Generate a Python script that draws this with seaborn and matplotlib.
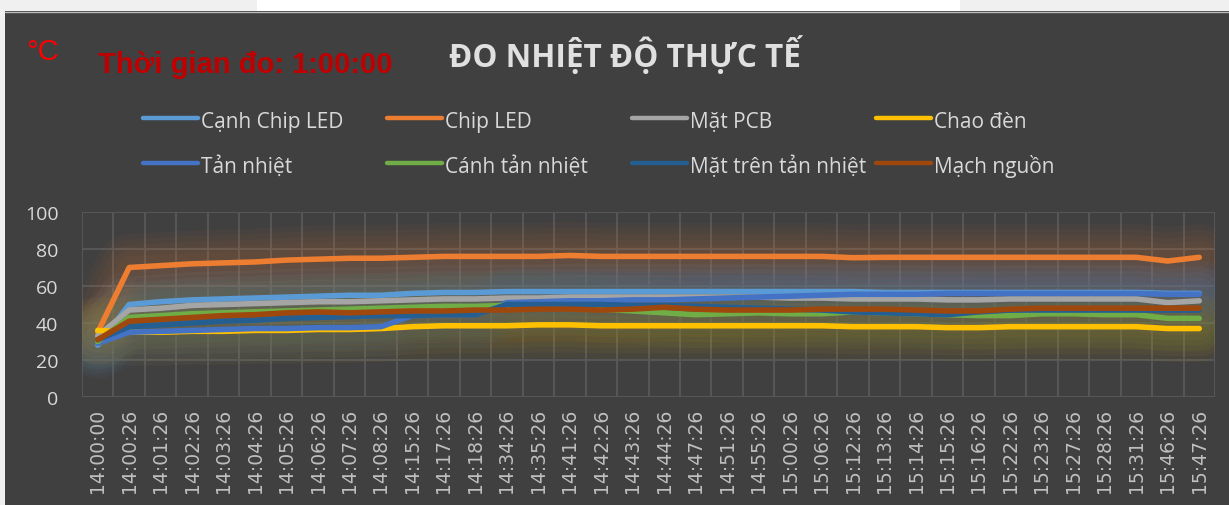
import numpy as np
import pandas as pd
import matplotlib
matplotlib.use('Agg')
import matplotlib.pyplot as plt
import seaborn as sns
from matplotlib.lines import Line2D
from matplotlib.patches import Rectangle
from matplotlib.ticker import FixedLocator

# Data

times = ['14:00:00', '14:00:26', '14:01:26', '14:02:26', '14:03:26', '14:04:26',
         '14:05:26', '14:06:26', '14:07:26', '14:08:26', '14:15:26', '14:17:26',
         '14:18:26', '14:34:26', '14:35:26', '14:41:26', '14:42:26', '14:43:26',
         '14:44:26', '14:47:26', '14:51:26', '14:55:26', '15:00:26', '15:06:26',
         '15:12:26', '15:13:26', '15:14:26', '15:15:26', '15:16:26', '15:22:26',
         '15:23:26', '15:27:26', '15:28:26', '15:31:26', '15:46:26', '15:47:26']

canh_chip_led = [28, 50, 51.5, 52.5, 53, 53.5, 54, 54.5, 55, 55, 56, 56.5, 56.5, 57, 57, 57, 57, 57,
                 57, 57, 57, 57, 57, 57, 57, 56.5, 56.5, 56.5, 56.5, 56.5, 56.5, 56.5, 56.5, 56.5, 56, 56]
chip_led = [35, 70, 71, 72, 72.5, 73, 74, 74.5, 75, 75, 75.5, 76, 76, 76, 76, 76.5, 76, 76,
            76, 76, 76, 76, 76, 76, 75.3, 75.5, 75.5, 75.5, 75.5, 75.5, 75.5, 75.5, 75.5, 75.5, 73.5, 75.5]
mat_pcb = [33, 47, 48, 49.5, 50, 50.5, 51, 51.5, 51.5, 52, 52.5, 53, 53, 53.5, 53.5, 54, 54, 54,
           54, 54, 54, 54, 53.5, 53.5, 53, 53, 53, 52.5, 52.5, 53, 53, 53, 53, 53, 51, 52]
chao_den = [36, 35, 35, 35.5, 35.5, 36, 36, 36.5, 36.5, 37, 38, 38.5, 38.5, 38.5, 39, 39, 38.5, 38.5,
            38.5, 38.5, 38.5, 38.5, 38.5, 38.5, 38, 38, 38, 37.5, 37.5, 38, 38, 38, 38, 38, 37, 37]
tan_nhiet = [29, 35, 35.5, 36, 36.5, 37, 37, 37.5, 37.5, 38, 44, 44.5, 44.5, 51, 51.5, 52, 52, 52.5,
             52.5, 53, 53.5, 54, 54.5, 55, 55.5, 55.5, 55.5, 56, 56, 56, 56, 56, 56, 56, 55.5, 55.5]
canh_tan_nhiet = [30, 43, 44, 45, 45.5, 46, 46.5, 47, 47.5, 48, 48.5, 49, 49, 49.5, 49.5, 49, 47.5, 46.5,
                  45.5, 44.5, 45, 45.5, 45, 45, 46, 45.5, 45, 44.5, 44, 44, 45, 45, 44.5, 44.5, 42.5, 42.5]
mat_tren_tan_nhiet = [31, 38, 39, 40, 41, 41.5, 42.5, 43, 43.5, 44, 44, 44.5, 44.5, 50, 50, 50, 50, 49.5,
                      49.5, 49, 48.5, 48, 47.5, 47, 46, 45.5, 45, 44.5, 46, 47, 47, 47, 47, 47, 47, 47]
mach_nguon = [31, 41, 42, 43, 44, 44.5, 45.5, 46, 45.5, 46, 46.5, 46.5, 47, 47, 47.5, 47.5, 47, 47.5,
              48.5, 47.5, 47, 47, 47, 47.5, 47.5, 47.5, 47, 46.5, 46.5, 47.5, 48, 48, 48, 48, 48, 48]

series_names = ['Cạnh Chip LED', 'Chip LED', 'Mặt PCB', 'Chao đèn',
                'Tản nhiệt', 'Cánh tản nhiệt', 'Mặt trên tản nhiệt', 'Mạch nguồn']
series_values = [canh_chip_led, chip_led, mat_pcb, chao_den,
                 tan_nhiet, canh_tan_nhiet, mat_tren_tan_nhiet, mach_nguon]
colors = ['#5B9BD5', '#ED7D31', '#A5A5A5', '#FFC000',
          '#4472C4', '#70AD47', '#255E91', '#9E480E']

rows = []
for name, vals in zip(series_names, series_values):
    for i, v in enumerate(vals):
        rows.append({'idx': i, 'time': times[i], 'series': name, 'temp': v})
df = pd.DataFrame(rows)

# Figure setup

W, H = 1229, 506
BG = '#404040'

sns.set_theme(style='dark')
plt.rcParams['font.family'] = ['Open Sans', 'DejaVu Sans']

fig = plt.figure(figsize=(W / 100, H / 100), dpi=100)
fig.patch.set_facecolor(BG)

def fx(px):
    return px / W

def fy(py):
    return 1 - py / H

# light frame around the chart (screenshot edges)
fig.add_artist(Rectangle((0, fy(12)), 1, 12 / H, transform=fig.transFigure,
                         facecolor='#f0f0f0', edgecolor='none'))
fig.add_artist(Rectangle((fx(257), fy(12)), 703 / W, 12 / H, transform=fig.transFigure,
                         facecolor='#ffffff', edgecolor='none'))
fig.add_artist(Rectangle((0, 0), 5 / W, 1, transform=fig.transFigure,
                         facecolor='#f0f0f0', edgecolor='none'))
fig.add_artist(Line2D([fx(5), 1], [fy(12.5), fy(12.5)], transform=fig.transFigure,
                      color='#bcbcbc', lw=1))

ax = fig.add_axes([fx(82), fy(398), (1215 - 82) / W, (398 - 213) / H])
ax.set_facecolor('none')

sns.lineplot(data=df, x='idx', y='temp', hue='series', hue_order=series_names,
             palette=colors, linewidth=4, legend=False, ax=ax, zorder=3)

# soft glow under the lines
for line in list(ax.lines):
    xd, yd = line.get_data()
    c = line.get_color()
    line.set_solid_capstyle('round')
    line.set_solid_joinstyle('round')
    for lw in [48, 40, 32, 24, 16]:
        ax.plot(xd, yd, color=c, lw=lw, alpha=0.045, zorder=1.5,
                solid_capstyle='round', solid_joinstyle='round')

ax.set_xlim(-0.5, len(times) - 0.5)
ax.set_ylim(0, 100)
ax.set_xticks(range(len(times)))
ax.set_xticklabels(times, rotation=90, family='DejaVu Sans', fontsize=13.5, color='#bfbfbf')
ax.xaxis.set_minor_locator(FixedLocator(np.arange(-0.5, len(times), 1)))
ax.set_yticks(range(0, 101, 20))
ax.set_yticklabels([str(v) for v in range(0, 101, 20)], fontsize=14, color='#d9d9d9')
ax.tick_params(axis='x', which='both', length=0, pad=8)
ax.tick_params(axis='y', length=0, pad=17)
ax.grid(False)
ax.grid(True, axis='x', which='minor', color='#595959', lw=1.3, zorder=0.5)
ax.grid(True, axis='y', which='major', color='#595959', lw=1.3, zorder=0.5)
ax.set_xlabel('')
ax.set_ylabel('')
for s in ax.spines.values():
    s.set_visible(False)

# titles
fig.text(fx(26), fy(60), '°C', family='Liberation Sans', fontsize=21, color='#ff0000',
         ha='left', va='baseline')
fig.text(fx(98), fy(73), 'Thời gian đo: 1:00:00', family='Liberation Sans', fontsize=21,
         fontweight='bold', color='#c00000', ha='left', va='baseline')
fig.text(fx(625), fy(67), 'ĐO NHIỆT ĐỘ THỰC TẾ', fontsize=22.7, fontweight='bold',
         color='#e0e0e0', ha='center', va='baseline')

# legend, Excel style: equal column widths
col_x = [143, 387, 632, 876]
row_y = [119, 164]
for k, (name, c) in enumerate(zip(series_names, colors)):
    x0 = col_x[k % 4]
    y0 = row_y[k // 4]
    fig.add_artist(Line2D([fx(x0), fx(x0 + 55)], [fy(y0), fy(y0)], transform=fig.transFigure,
                          color=c, lw=3.2, solid_capstyle='round'))
    fig.text(fx(x0 + 58), fy(y0 + 9), name, fontsize=15, color='#d9d9d9',
             ha='left', va='baseline')

fig.savefig('out.png', dpi=100, facecolor=fig.get_facecolor())
